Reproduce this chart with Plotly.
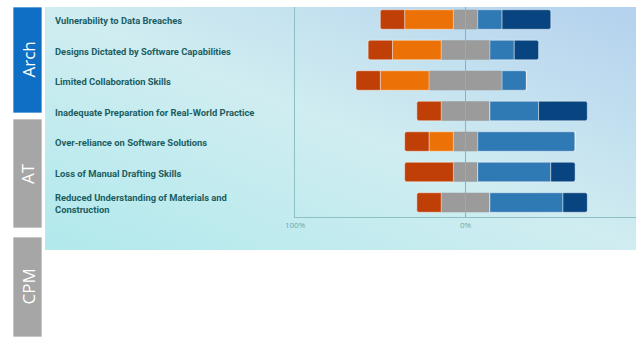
import base64
import plotly.graph_objects as go

# Survey statements (top to bottom) and response counts per Likert level
statements = [
    "Vulnerability to Data Breaches",
    "Designs Dictated by Software Capabilities",
    "Limited Collaboration Skills",
    "Inadequate Preparation for Real-World Practice",
    "Over-reliance on Software Solutions",
    "Loss of Manual Drafting Skills",
    "Reduced Understanding of Materials and<br>Construction",
]
strongly_disagree = [1, 1, 1, 1, 1, 2, 1]
disagree = [2, 2, 2, 0, 1, 0, 0]
neutral = [1, 2, 3, 2, 1, 1, 2]
agree = [1, 1, 1, 2, 4, 3, 3]
strongly_agree = [2, 1, 0, 2, 0, 1, 1]

# Side tabs for the respondent groups
group_names = ["Arch", "AT", "CPM"]
group_colors = ["#0f6fc5", "#a6a6a6", "#a6a6a6"]

tick_vals = [-100, 0, 100]
tick_text = ["100%", "0%", "100%"]

W, H = 636, 338

totals = [a + b + c + d + e for a, b, c, d, e in
          zip(strongly_disagree, disagree, neutral, agree, strongly_agree)]


def pct(vals, sign=1.0, scale=1.0):
    return [sign * scale * v / t * 100 for v, t in zip(vals, totals)]


rows = list(range(len(statements)))
colors = {
    "sd": "#bf3f07",
    "d": "#ec7207",
    "n": "#9b9b9b",
    "a": "#2f79b5",
    "sa": "#08447f",
}
sep = dict(color="rgba(255,255,255,0.55)", width=0.8)

fig = go.Figure()
# Neutral responses are split evenly across the zero line
fig.add_trace(go.Bar(y=rows, x=pct(neutral, -1, 0.5), orientation="h",
                     marker=dict(color=colors["n"], line=dict(width=0))))
fig.add_trace(go.Bar(y=rows, x=pct(neutral, 1, 0.5), orientation="h",
                     marker=dict(color=colors["n"], line=dict(width=0))))
fig.add_trace(go.Bar(y=rows, x=pct(disagree, -1), orientation="h",
                     marker=dict(color=colors["d"], line=sep)))
fig.add_trace(go.Bar(y=rows, x=pct(agree, 1), orientation="h",
                     marker=dict(color=colors["a"], line=sep)))
fig.add_trace(go.Bar(y=rows, x=pct(strongly_disagree, -1), orientation="h",
                     marker=dict(color=colors["sd"], line=sep)))
fig.add_trace(go.Bar(y=rows, x=pct(strongly_agree, 1), orientation="h",
                     marker=dict(color=colors["sa"], line=sep)))

# Horizontal layout positions are given in screen pixels; the page shows
# the figure with a small left inset and a slight horizontal squeeze.
X_OFF, X_SCALE = 9.0, 0.984


def px_x(px):
    return (px - X_OFF) / X_SCALE / W


def px_y(py):
    return 1 - py / H


# Gradient panel behind the chart
svg = (
    '<svg xmlns="http://www.w3.org/2000/svg" width="592" height="243">'
    '<defs><linearGradient id="g" x1="0" y1="1" x2="1" y2="0">'
    '<stop offset="0" stop-color="#b1e9ec"/>'
    '<stop offset="0.5" stop-color="#d0edf1"/>'
    '<stop offset="1" stop-color="#b4d1ee"/>'
    '</linearGradient></defs>'
    '<rect width="592" height="243" fill="url(#g)"/></svg>'
)
svg_uri = "data:image/svg+xml;base64," + base64.b64encode(svg.encode()).decode()
fig.add_layout_image(dict(
    source=svg_uri, xref="paper", yref="paper",
    x=px_x(44), y=px_y(7), sizex=1 - px_x(44), sizey=(250 - 7) / H,
    xanchor="left", yanchor="top", sizing="stretch", layer="below",
))

# Group tabs on the left
tab_spans = [(7, 113), (119, 228), (237, 337)]
for name, col, (t, b) in zip(group_names, group_colors, tab_spans):
    fig.add_shape(type="rect", xref="paper", yref="paper",
                  x0=px_x(12), x1=px_x(41), y0=px_y(b), y1=px_y(t),
                  fillcolor=col, line=dict(color="rgba(255,255,255,0.7)", width=1),
                  layer="below")
    fig.add_annotation(x=px_x(26.5), y=px_y((t + b) / 2), xref="paper", yref="paper",
                       xanchor="center", yanchor="middle",
                       text=name, textangle=-90, showarrow=False,
                       font=dict(family="Open Sans", size=17, color="#ffffff"))

# Statement labels
for i, s in enumerate(statements):
    fig.add_annotation(x=px_x(51.5), y=i, xref="paper", yref="y", text=s,
                       xanchor="left", yanchor="middle", align="left",
                       showarrow=False, yshift=-1,
                       font=dict(family="Roboto", size=9.4, color="#1b5d61",
                                 weight="bold"))

# Zero reference line drawn over the bars
fig.add_shape(type="line", xref="x", yref="y domain", x0=0, x1=0, y0=0, y1=1,
              line=dict(color="#7fb5ba", width=1), layer="above")

fig.update_layout(
    width=W, height=H,
    margin=dict(l=0, r=0, t=0, b=0),
    barmode="relative",
    bargap=0.36,
    barcornerradius=2,
    showlegend=False,
    paper_bgcolor="#ffffff",
    plot_bgcolor="rgba(0,0,0,0)",
    xaxis=dict(domain=[px_x(294), 1], range=[-100, 100], tickvals=tick_vals,
               ticktext=tick_text, showgrid=False, zeroline=False,
               showline=True, linecolor="#8cc0c4", linewidth=1, ticks="",
               tickfont=dict(family="Open Sans", size=8, color="#6aa9ad"),
               fixedrange=True),
    yaxis=dict(domain=[px_y(217), px_y(7)], range=[6.475, -0.41],
               showticklabels=False, showgrid=False, zeroline=False,
               showline=True, linecolor="#8cc0c4", linewidth=1, ticks="",
               fixedrange=True),
)

fig.write_html("out.html")
